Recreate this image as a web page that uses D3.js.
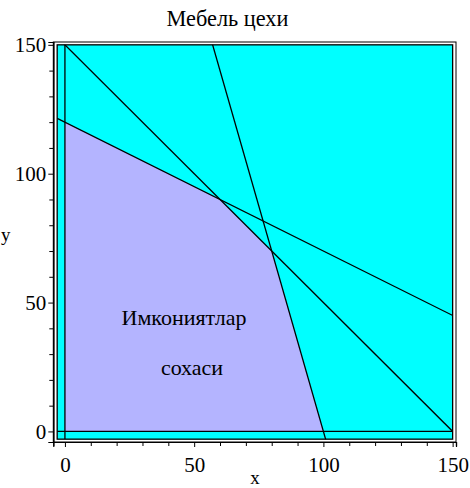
<!DOCTYPE html>
<html>
<head>
<meta charset="utf-8">
<script src="https://cdn.jsdelivr.net/npm/d3@7/dist/d3.min.js"></script>
<style>
  html, body { margin: 0; padding: 0; background: #fff; }
  svg { display: block; }
</style>
</head>
<body>
<script>
// Constraint lines a*x + b*y = c
const lineA = [1, 7, 1];
const lineB = [2, 2, 1];
const lineC = [240, 700, 150];

// Feasible region vertices
const regionX = [0, 0, 60, 80, 100];
const regionY = [0, 120, 90, 70, 0];

// Plotted window of the inequality shading
const shadeX = [-3, 150];
const shadeY = [-3, 150];

const majorTicks = [0, 50, 100, 150];
const minorTicks = [10, 20, 30, 40, 60, 70, 80, 90, 110, 120, 130, 140];

const titleText = "Мебель цехи";
const regionLabel = ["Имкониятлар", "сохаси"];

const SERIF = "Liberation Serif";

const W = 470, H = 488;
const svg = d3.select("body").append("svg").attr("width", W).attr("height", H);

const x = d3.scaleLinear().domain([-4.5, 151.3]).range([53.3, 456]);
const y = d3.scaleLinear().domain([-4.1, 151.1]).range([442, 42]);

// Clip for the shaded window
svg.append("clipPath").attr("id", "win")
  .append("rect")
  .attr("x", x(shadeX[0])).attr("y", y(shadeY[1]))
  .attr("width", x(shadeX[1]) - x(shadeX[0]))
  .attr("height", y(shadeY[0]) - y(shadeY[1]));

// Infeasible background
svg.append("rect")
  .attr("x", x(shadeX[0])).attr("y", y(shadeY[1]))
  .attr("width", x(shadeX[1]) - x(shadeX[0]))
  .attr("height", y(shadeY[0]) - y(shadeY[1]))
  .attr("fill", "#00ffff");

// Feasible polygon
const pts = regionX.map((v, i) => [x(v), y(regionY[i])]);
svg.append("path")
  .attr("d", d3.line()(pts) + "Z")
  .attr("fill", "#b4b4ff");

const g = svg.append("g").attr("clip-path", "url(#win)");

// Constraint lines across the window
lineA.forEach((a, i) => {
  const b = lineB[i], c = lineC[i];
  const xa = shadeX[0], xb = shadeX[1] + 5;
  g.append("line")
    .attr("x1", x(xa)).attr("y1", y((c - a * xa) / b))
    .attr("x2", x(xb)).attr("y2", y((c - a * xb) / b))
    .attr("stroke", "#000").attr("stroke-width", 1.3);
});

// Non-negativity boundaries x = 0 and y = 0
g.append("line")
  .attr("x1", x(0)).attr("x2", x(0))
  .attr("y1", y(shadeY[0])).attr("y2", y(shadeY[1]))
  .attr("stroke", "#000").attr("stroke-width", 1.3);
g.append("line")
  .attr("x1", x(shadeX[0])).attr("x2", x(shadeX[1]))
  .attr("y1", y(0)).attr("y2", y(0))
  .attr("stroke", "#000").attr("stroke-width", 1.3);

// Window border
svg.append("rect")
  .attr("x", x(shadeX[0])).attr("y", y(shadeY[1]))
  .attr("width", x(shadeX[1]) - x(shadeX[0]))
  .attr("height", y(shadeY[0]) - y(shadeY[1]))
  .attr("fill", "none").attr("stroke", "#000").attr("stroke-width", 1.3);

// Outer box frame
svg.append("rect")
  .attr("x", x.range()[0]).attr("y", y.range()[1])
  .attr("width", x.range()[1] - x.range()[0])
  .attr("height", y.range()[0] - y.range()[1])
  .attr("fill", "none").attr("stroke", "#000").attr("stroke-width", 1);

// Axes
const xAxis = svg.append("g").attr("transform", `translate(0,${y.range()[0]})`);
xAxis.call(d3.axisBottom(x).tickValues(majorTicks).tickSize(5).tickFormat(d3.format("d")));
xAxis.append("g").call(d3.axisBottom(x).tickValues(minorTicks).tickSize(4).tickFormat(""));
const yAxis = svg.append("g").attr("transform", `translate(${x.range()[0]},0)`);
yAxis.call(d3.axisLeft(y).tickValues(majorTicks).tickSize(5).tickFormat(d3.format("d")));
yAxis.append("g").call(d3.axisLeft(y).tickValues(minorTicks).tickSize(4).tickFormat(""));

svg.selectAll("g").attr("font-family", SERIF);
svg.selectAll(".domain").attr("stroke", "#000").attr("stroke-width", 1.2);
svg.selectAll(".tick line").attr("stroke", "#000");
xAxis.selectAll(".tick text")
  .attr("font-family", SERIF).attr("font-size", 21).attr("fill", "#000")
  .attr("dy", null).attr("y", 30);
yAxis.selectAll(".tick text")
  .attr("font-family", SERIF).attr("font-size", 21).attr("fill", "#000")
  .attr("x", -7).attr("dy", "0.34em");

function label(px, py, size, str, anchor) {
  return svg.append("text").attr("x", px).attr("y", py)
    .attr("text-anchor", anchor || "middle")
    .attr("font-family", SERIF).attr("font-size", size).attr("fill", "#000").text(str);
}

// Title and axis names
label(227.5, 26, 22.3, titleText);
label(255, 484, 19, "x");
label(1, 241, 19, "y", "start");

// Region label
label(184, 325, 22, regionLabel[0]);
label(192, 375, 22, regionLabel[1]);
</script>
</body>
</html>
